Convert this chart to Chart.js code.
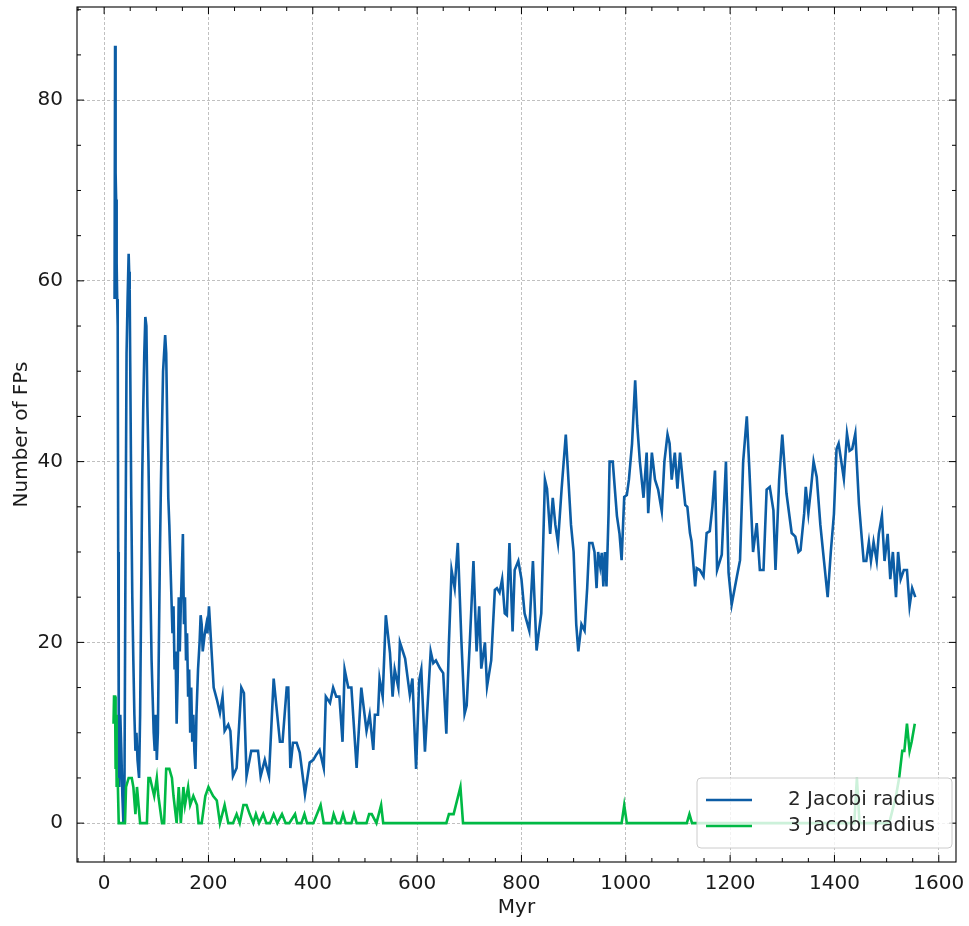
<!DOCTYPE html>
<html>
<head>
<meta charset="utf-8">
<script src="https://cdn.jsdelivr.net/npm/chart.js@4.4.0/dist/chart.umd.min.js"></script>
<style>
  html, body { margin: 0; padding: 0; background: #fff; }
  #wrap { width: 969px; height: 926px; }
</style>
</head>
<body>
<div id="wrap"><canvas id="chart"></canvas></div>
<script>
// values
const seriesNames = ['2 Jacobi radius', '3 Jacobi radius'];
const xTicks = [0, 200, 400, 600, 800, 1000, 1200, 1400, 1600];
const yTicks = [0, 20, 40, 60, 80];

const myr2 = [20,21,22,23,24,25,26,27,28,29,31,33,35,37,39,41,43,45,47,48,49,50,52,54,56,58,60,62,64,67,69,71,73,75,77,79,81,83,85,87,89,91,93,95,97,99,101,103,105,107,109,111,113,115,117,119,121,123,125,127,129,131,133,135,137,139,141,143,145,147,149,151,153,155,157,159,161,163,165,167,169,171,173,175,177,180,183,185,187,189,191,193,196,198,201,204,207,210,
  216,222,227,231,238,242,247,254,263,268,273,282,295,300,308,311,316,325,337,342,350,353,357,362,369,375,385,394,401,407,413,421,425,433,439,445,451,457,461,468,474,484,493,503,509,516,519,525,528,534,540,548,553,557,564,567,577,586,591,598,604,608,615,626,631,636,644,650,656,661,666,672,678,685,691,695,701,708,714,719,723,730,734,742,749,753,758,763,768,772,777,783,787,794,800,806,815,822,829,833,838,845,849,855,860,865,870,877,885,890,895,900,905,909,915,921,926,930,936,940,944,947,
  951,954,957,960,963,967,969,975,983,988,992,997,1002,1006,1012,1018,1022,1027,1034,1040,1043,1050,1056,1062,1069,1074,1080,1084,1088,1094,1099,1104,1109,1114,1118,1123,1126,1133,1136,1142,1149,1155,1161,1166,1171,1175,1184,1192,1197,1203,1213,1219,1225,1232,1237,1244,1251,1257,1264,1270,1276,1283,1287,1294,1300,1308,1318,1325,1331,1335,1342,1345,1350,1355,1360,1366,1373,1380,1387,1393,1399,1404,1408,1418,1424,1429,1434,1440,1447,1456,1461,1466,1470,1475,1481,1485,1491,1496,1502,1507,1512,1518,1522,1527,1533,1539,1544,1549,1555];
const fps2 = [58,86,72,69,62,58,55,30,12,4,12,8,3,0,4,30,52,58,63,61,59,51,36,25,18,12,8,10,7,5,12,25,38,46,52,56,55,46,40,32,25,18,14,10,8,12,7,10,20,30,38,44,50,52,54,52,44,36,33,29,25,21,24,17,19,11,16,25,19,24,28,32,22,25,18,21,14,17,10,15,9,12,8,6,12,17,20,23,22,19,20,21,22,21,24,21,18,15,
  13.7,12.2,14,10.2,10.9,10.2,5.2,6.1,15,14.4,5.2,8,8,5.2,7,6.3,5.2,16,9,9,15,15,6.1,8.9,8.9,7.8,3.2,6.7,7,7.6,8.1,6.1,14,13.3,15,14,14,9,17,15,15,6.1,15,10.2,12,8.1,12,12,16,14,23,18.8,14,17,15,20,18.2,14.2,16,6,15.8,17,7.9,19,17.7,18,17.1,16.6,9.9,20,28,26,31,20,12.1,13,20,29,19,24,17.1,20,15.1,18,25.8,26,25.5,27,23.2,23,31,21.2,28,29,27,23.2,21.3,29,19.1,21,23.2,38,37,32,36,33,31,37,43,38,33,30,22,19,22,21.3,26,31,31,30,26,30,
  28.4,29.9,26.2,30,26.2,34.3,40,40,34,32,29.1,36.1,36.3,38,42,49,44,40,36,41,34.3,41,38,36.9,34.5,40,43,42,38,41,37,41,38,35.2,35,32.1,31.2,26.2,28.2,28,27.3,32.1,32.3,35,39,28,29.7,40,27.7,24.2,27.3,29.1,40,45,39,30,33.2,28,28,36.9,37.2,34.6,28,38,43,36.5,32.1,31.7,30,30.2,34.3,37.2,34.3,37,40,38.3,33,29,25,30,34.2,41.4,42,38.1,43.1,41.2,41.4,43.1,35.3,29,29,31.1,29,31.1,29,32,34,29,32,27,30,25,30,27,28,28,24,26,25];

const myr3 = [18,19,21,22,23,24,26,28,40,42,47,53,56,60,63,69,82,85,88,92,96,101,104,111,115,119,125,130,133,139,143,147,152,155,161,165,171,178,181,187,194,200,209,216,222,231,238,247,254,260,267,273,279,286,291,297,305,311,318,325,332,341,348,355,366,370,378,384,389,401,415,421,436,440,446,453,458,463,474,479,484,503,508,513,522,531,535,656,661,670,683,688,992,997,1002,1117,1122,1127,1438,1443,1448,1505,1518,1524,1530,1534,1539,1544,1548,1554];
const fps3 = [11,14,14,6,12,4,5,0,0,4,5,5,4,1,4,0,0,5,5,4,3,5,3,0,0,6,6,5,3,0,4,0,4,2,4,2,3,2,0,0,3,4,3,2.5,0,2,0,0,1,0,2,2,1,0,1,0,1,0,0,1,0,1,0,0,1,0,0,1,0,0,2,0,0,1,0,0,1,0,0,1,0,0,1,1,0,2,0,0,1,1,4,0,0,2,0,0,1,0,0,5,0,0,3,5,8,8,11,8,9,11];

const blue = '#0C5DA5';
const green = '#00B945';
const fontFamily = '"DejaVu Sans", sans-serif';

const pts = (xs, ys) => xs.map((x, i) => ({ x: x, y: ys[i] }));

// keep the plot box where the reference has it
const noPad = s => { s.paddingLeft = 0; s.paddingRight = 0; s.paddingTop = 0; s.paddingBottom = 0; };

// inward ticks on all four sides + frame + legend
const frameTicks = {
  id: 'frameTicks',
  afterDraw(chart) {
    const { ctx, chartArea: a, scales: { x, y } } = chart;
    ctx.save();
    ctx.strokeStyle = '#000';
    const tick = (x1, y1, x2, y2, w) => {
      ctx.lineWidth = w;
      ctx.beginPath(); ctx.moveTo(x1, y1); ctx.lineTo(x2, y2); ctx.stroke();
    };
    for (let v = -50; v <= 1650; v += 50) {
      const px = x.getPixelForValue(v);
      if (px < a.left || px > a.right) continue;
      const len = v % 200 === 0 ? 7 : 4;
      tick(px, a.bottom, px, a.bottom - len, 1);
      tick(px, a.top, px, a.top + len, 1);
    }
    for (let v = 0; v <= 90; v += 5) {
      const py = y.getPixelForValue(v);
      if (py < a.top || py > a.bottom) continue;
      const len = v % 20 === 0 ? 7 : 4;
      tick(a.left, py, a.left + len, py, 1);
      tick(a.right, py, a.right - len, py, 1);
    }
    ctx.lineWidth = 1.1;
    ctx.strokeRect(a.left, a.top, a.right - a.left, a.bottom - a.top);

    // legend, lower right
    const bx = 697, by = 778, bw = 255, bh = 70;
    ctx.beginPath();
    ctx.roundRect(bx, by, bw, bh, 4);
    ctx.fillStyle = 'rgba(255,255,255,0.8)';
    ctx.fill();
    ctx.lineWidth = 1;
    ctx.strokeStyle = '#cccccc';
    ctx.stroke();
    ctx.font = '20px ' + fontFamily;
    ctx.textBaseline = 'middle';
    [blue, green].forEach((c, i) => {
      const ly = by + 22 + i * 26;
      ctx.strokeStyle = c;
      ctx.lineWidth = 2.6;
      ctx.beginPath(); ctx.moveTo(bx + 9, ly); ctx.lineTo(bx + 55, ly); ctx.stroke();
      ctx.fillStyle = '#262626';
      ctx.fillText(seriesNames[i], bx + 91, ly);
    });
    ctx.restore();
  }
};

new Chart(document.getElementById('chart'), {
  type: 'line',
  data: {
    datasets: [
      { label: seriesNames[0], data: pts(myr2, fps2), borderColor: blue, borderWidth: 2.6, pointRadius: 0, tension: 0, order: 1 },
      { label: seriesNames[1], data: pts(myr3, fps3), borderColor: green, borderWidth: 2.6, pointRadius: 0, tension: 0, order: 0 }
    ]
  },
  options: {
    responsive: true,
    maintainAspectRatio: false,
    animation: false,
    layout: { padding: { top: 7, right: 13, left: 0, bottom: 0 } },
    plugins: { legend: { display: false }, tooltip: { enabled: false } },
    scales: {
      x: {
        type: 'linear', min: -52, max: 1633, bounds: 'data',
        afterBuildTicks: s => { s.ticks = xTicks.map(v => ({ value: v })); },
        afterFit: s => { s.height = 64; noPad(s); },
        grid: { color: '#b0b0b0', lineWidth: 0.8, drawTicks: false },
        border: { display: false, dash: [3, 2] },
        ticks: { color: '#1a1a1a', padding: 10, maxRotation: 0, autoSkip: false, callback: v => String(v), font: { family: fontFamily, size: 20 } },
        title: { display: true, text: 'Myr', color: '#1a1a1a', padding: { top: 0, bottom: 6 }, font: { family: fontFamily, size: 20 } }
      },
      y: {
        type: 'linear', min: -4.3, max: 90.3, bounds: 'data',
        afterBuildTicks: s => { s.ticks = yTicks.map(v => ({ value: v })); },
        afterFit: s => { s.width = 77; noPad(s); },
        grid: { color: '#b0b0b0', lineWidth: 0.8, drawTicks: false },
        border: { display: false, dash: [3, 2] },
        ticks: { color: '#1a1a1a', padding: 14, autoSkip: false, callback: v => String(v), font: { family: fontFamily, size: 20 } },
        title: { display: true, text: 'Number of FPs', color: '#1a1a1a', padding: { top: 10, bottom: 0 }, font: { family: fontFamily, size: 20 } }
      }
    }
  },
  plugins: [frameTicks]
});
</script>
</body>
</html>
